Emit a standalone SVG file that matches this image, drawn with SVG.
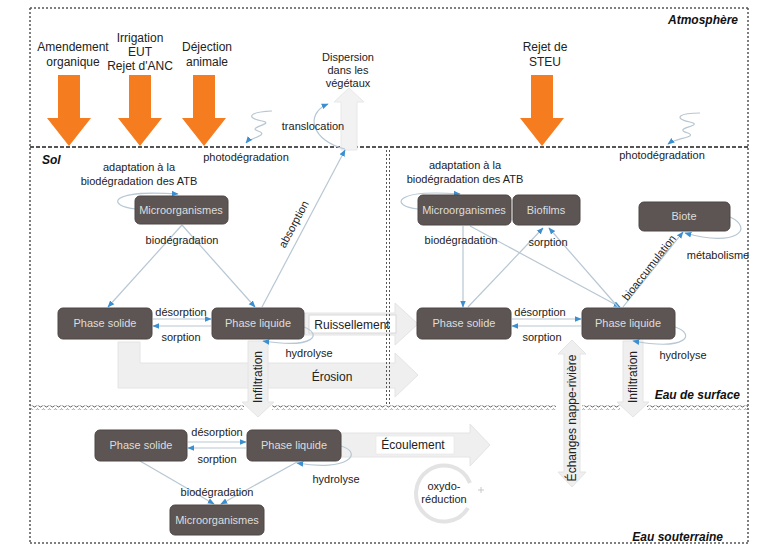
<svg xmlns="http://www.w3.org/2000/svg" width="759" height="545" viewBox="0 0 759 545">
<style>
text{font-family:"Liberation Sans",Arial,sans-serif;}
.lbl{font-size:11px;fill:#222;text-anchor:middle;}
.src{font-size:12px;fill:#222;text-anchor:middle;}
.big{font-size:12px;fill:#222;text-anchor:middle;}
.sec{font-size:12px;font-weight:bold;font-style:italic;fill:#111;}
.box{fill:#5c5553;stroke:#4c4644;stroke-width:1;}
.bt{font-size:11px;fill:#ddd;text-anchor:middle;}
.conn{stroke:#b7c7d3;stroke-width:1.2;fill:none;marker-end:url(#ah);}
.grey{fill:#efefef;stroke:#e4e4e4;stroke-width:1;}
.orange{fill:#f57c1f;}
.dot{stroke:#555;stroke-width:1.5;stroke-dasharray:2 2;fill:none;}
</style>
<defs>
<marker id="ah" viewBox="0 0 10 10" refX="9" refY="5" markerUnits="userSpaceOnUse" markerWidth="7" markerHeight="7" orient="auto"><path d="M0 1 L10 5 L0 9 z" fill="#3b8fd0"/></marker>
<pattern id="wave" width="6" height="4" patternUnits="userSpaceOnUse"><path d="M0 2 Q1.5 0 3 2 T6 2" stroke="#555" stroke-width="1" fill="none"/></pattern>
</defs>
<rect width="759" height="545" fill="#fff"/>

<!-- zones -->
<g id="zones">
<line class="dot" x1="30" y1="8" x2="748" y2="8"/>
<line class="dot" x1="30" y1="8" x2="30" y2="543"/>
<line class="dot" x1="748" y1="8" x2="748" y2="543"/>
<line class="dot" x1="30" y1="543" x2="748" y2="543"/>
<line x1="30" y1="147" x2="748" y2="147" stroke="#555" stroke-width="2" stroke-dasharray="4 2"/>
<rect x="30" y="405.5" width="214" height="4" fill="url(#wave)"/>
<rect x="272" y="405.5" width="284" height="4" fill="url(#wave)"/>
<rect x="582" y="405.5" width="38" height="4" fill="url(#wave)"/>
<rect x="647" y="405.5" width="101" height="4" fill="url(#wave)"/>
<text class="sec" x="738" y="24" text-anchor="end">Atmosphère</text>
<text class="sec" x="42" y="164">Sol</text>
<text class="sec" x="740" y="399" text-anchor="end">Eau de surface</text>
<text class="sec" x="723" y="541" text-anchor="end">Eau souterraine</text>
</g>

<!-- sources -->
<g id="sources">
<polygon class="orange" points="58,75 80,75 80,118 91,118 69,146 47,118 58,118"/>
<polygon class="orange" points="129,75 151,75 151,118 162,118 140,146 118,118 129,118"/>
<polygon class="orange" points="193,75 215,75 215,118 226,118 204,146 182,118 193,118"/>
<polygon class="orange" points="531,75 553,75 553,118 564,118 542,146 520,118 531,118"/>
<text class="src" x="73" y="51">Amendement</text>
<text class="src" x="73" y="66">organique</text>
<text class="src" x="140" y="42">Irrigation</text>
<text class="src" x="140" y="56">EUT</text>
<text class="src" x="140" y="70">Rejet d'ANC</text>
<text class="src" x="207" y="51">Déjection</text>
<text class="src" x="207" y="66">animale</text>
<text class="src" x="545" y="51">Rejet de</text>
<text class="src" x="545" y="66">STEU</text>
<text class="lbl" x="348" y="61">Dispersion</text>
<text class="lbl" x="348" y="74">dans les</text>
<text class="lbl" x="348" y="87">végétaux</text>
</g>

<!-- big transfer arrows -->
<g id="transfers">
<polygon points="341,150 357,150 357,102 364,102 349,88 334,102 341,102" fill="#f2f2f2" stroke="#e8e8e8"/>
<polygon class="grey" points="118,342 140,342 140,363 395,363 395,353 418,375 395,397 395,388 118,388"/>
<text class="big" x="332" y="381">Érosion</text>
<polygon class="grey" points="305,313 395,313 395,303 418,324 395,345 395,335 305,335"/>
<rect x="309" y="315" width="87" height="18" fill="#fff" stroke="#d8d8d8"/>
<text class="big" x="352" y="329">Ruissellement</text>
<polygon class="grey" points="248,341 268,341 268,402 274,402 258,417 242,402 248,402"/>
<text class="big" transform="translate(262,377) rotate(-90)">Infiltration</text>
<polygon class="grey" points="623,341 643,341 643,402 649,402 633,417 617,402 623,402"/>
<text class="big" transform="translate(637,377) rotate(-90)">Infiltration</text>
<polygon class="grey" points="572,340 586,354 580,354 580,472 586,472 572,487 558,472 564,472 564,354 558,354"/>
<text class="big" transform="translate(576,418) rotate(-90)">Échanges nappe-rivière</text>
<polygon class="grey" points="341,433 470,433 470,424 490,445 470,466 470,457 341,457"/>
<rect x="376" y="436" width="78" height="18" fill="#fff" stroke="#e4e4e4" stroke-width="0.6"/>
<text class="big" x="413" y="449">Écoulement</text>
<path d="M 470 483 A 28 28 0 1 0 468 508" stroke="#e3e3e3" stroke-width="4" fill="none"/>
<path d="M 481 487 l 0 6 M 478 490 l 6 0" stroke="#c8c8c8" stroke-width="1"/>
<text class="lbl" x="444" y="490" font-size="10">oxydo-</text>
<text class="lbl" x="444" y="503" font-size="10">réduction</text>
</g>

<!-- divider (drawn over arrows) -->
<g id="divider">
<line x1="386.5" y1="150" x2="386.5" y2="405" stroke="#555" stroke-width="1" stroke-dasharray="2 2"/>
<line x1="389.5" y1="150" x2="389.5" y2="405" stroke="#555" stroke-width="1" stroke-dasharray="2 2"/>
</g>

<!-- connectors -->
<g id="connectors">
<path class="conn" d="M 272 111 C 248 112 246 118 262 121 C 276 124 246 127 258 131 C 270 135 250 138 246 143"/>
<path class="conn" d="M 700 113 C 680 113 672 118 690 122 C 706 126 670 128 688 133 C 698 137 676 138 668 144"/>
<path class="conn" d="M 345 149 C 312 141 304 114 328 104"/>
<path class="conn" d="M 136 209 C 106 206 108 189 178 194"/>
<path class="conn" d="M 182 225 L 108 307"/>
<path class="conn" d="M 182 225 L 255 307"/>
<path class="conn" d="M 262 307 L 345 150"/>
<path class="conn" d="M 153 319 L 211 319"/>
<path class="conn" d="M 211 326 L 153 326"/>
<path class="conn" d="M 304 327 C 322 334 316 349 263 341"/>
<path class="conn" d="M 418 209 C 390 206 392 189 460 194"/>
<path class="conn" d="M 463 226 L 463 307"/>
<path class="conn" d="M 470 226 L 620 307"/>
<path class="conn" d="M 468 307 L 543 228"/>
<path class="conn" d="M 618 307 L 549 228"/>
<path class="conn" d="M 623 307 L 683 232"/>
<path class="conn" d="M 730 217 C 754 228 738 248 685 233"/>
<path class="conn" d="M 512 319 L 581 319"/>
<path class="conn" d="M 581 326 L 512 326"/>
<path class="conn" d="M 675 327 C 696 334 688 351 633 341"/>
<path class="conn" d="M 188 442 L 246 442"/>
<path class="conn" d="M 246 448 L 188 448"/>
<path class="conn" d="M 341 446 C 364 453 348 472 297 463"/>
<path class="conn" d="M 140 461 L 214 504"/>
<path class="conn" d="M 297 462 L 221 504"/>
</g>

<!-- connector labels -->
<g id="labels">
<text class="lbl" x="313" y="130">translocation</text>
<text class="lbl" x="246" y="161">photodégradation</text>
<text class="lbl" x="662" y="159">photodégradation</text>
<text class="lbl" x="139" y="171">adaptation à la</text>
<text class="lbl" x="139" y="185">biodégradation des ATB</text>
<text class="lbl" x="182" y="244">biodégradation</text>
<text class="lbl" transform="translate(297,226) rotate(-62)">absorption</text>
<text class="lbl" x="181" y="316">désorption</text>
<text class="lbl" x="181" y="341">sorption</text>
<text class="lbl" x="309" y="357">hydrolyse</text>
<text class="lbl" x="465" y="169">adaptation à la</text>
<text class="lbl" x="465" y="183">biodégradation des ATB</text>
<text class="lbl" x="461" y="244">biodégradation</text>
<text class="lbl" x="548" y="246">sorption</text>
<text class="lbl" x="718" y="259">métabolisme</text>
<text class="lbl" transform="translate(652,270) rotate(-52)">bioaccumulation</text>
<text class="lbl" x="540" y="316">désorption</text>
<text class="lbl" x="542" y="341">sorption</text>
<text class="lbl" x="683" y="359">hydrolyse</text>
<text class="lbl" x="217" y="436">désorption</text>
<text class="lbl" x="217" y="463">sorption</text>
<text class="lbl" x="336" y="483">hydrolyse</text>
<text class="lbl" x="217" y="496">biodégradation</text>
</g>

<!-- nodes -->
<g id="sol-micro"><rect class="box" x="135" y="196" width="93" height="28" rx="5"/><text class="bt" x="181" y="214">Microorganismes</text></g>
<g id="sol-solide"><rect class="box" x="58" y="308" width="94" height="31" rx="5"/><text class="bt" x="105" y="327">Phase solide</text></g>
<g id="sol-liquide"><rect class="box" x="212" y="308" width="92" height="31" rx="5"/><text class="bt" x="258" y="327">Phase liquide</text></g>
<g id="surf-micro"><rect class="box" x="418" y="195" width="93" height="30" rx="5"/><text class="bt" x="464" y="214">Microorganismes</text></g>
<g id="surf-biofilms"><rect class="box" x="513" y="195" width="67" height="30" rx="5"/><text class="bt" x="546" y="214">Biofilms</text></g>
<g id="surf-biote"><rect class="box" x="639" y="202" width="91" height="29" rx="5"/><text class="bt" x="684" y="220">Biote</text></g>
<g id="surf-solide"><rect class="box" x="417" y="308" width="94" height="31" rx="5"/><text class="bt" x="464" y="327">Phase solide</text></g>
<g id="surf-liquide"><rect class="box" x="582" y="308" width="93" height="31" rx="5"/><text class="bt" x="628" y="327">Phase liquide</text></g>
<g id="gw-solide"><rect class="box" x="95" y="430" width="92" height="31" rx="5"/><text class="bt" x="141" y="449">Phase solide</text></g>
<g id="gw-liquide"><rect class="box" x="247" y="430" width="94" height="31" rx="5"/><text class="bt" x="294" y="449">Phase liquide</text></g>
<g id="gw-micro"><rect class="box" x="170" y="505" width="94" height="30" rx="5"/><text class="bt" x="217" y="524">Microorganismes</text></g>
</svg>
